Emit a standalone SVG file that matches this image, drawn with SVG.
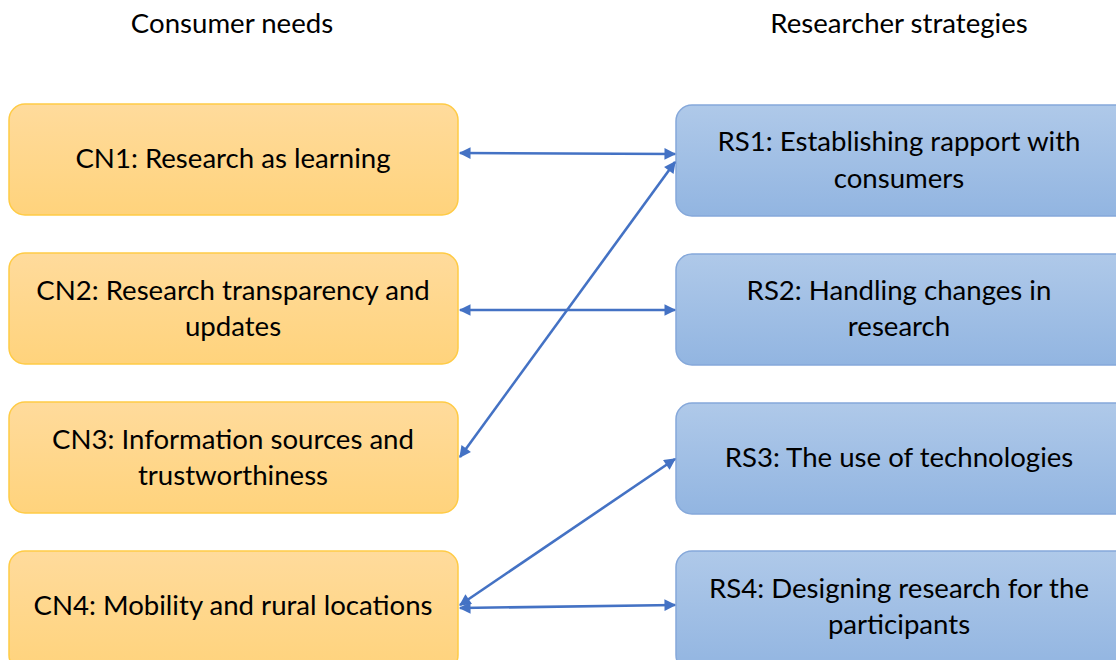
<svg xmlns="http://www.w3.org/2000/svg" width="1116" height="660" viewBox="0 0 1116 660">
<defs>
<linearGradient id="gy" x1="0" y1="0" x2="0" y2="1"><stop offset="0" stop-color="#FFDB9C"/><stop offset="1" stop-color="#FFD37C"/></linearGradient>
<linearGradient id="gb" x1="0" y1="0" x2="0" y2="1"><stop offset="0" stop-color="#AFC9E9"/><stop offset="1" stop-color="#92B5E1"/></linearGradient>
<marker id="ah" viewBox="0 0 10 10" refX="9" refY="5" markerWidth="5" markerHeight="4.5" orient="auto-start-reverse" markerUnits="strokeWidth"><path d="M0,0 L10,5 L0,10 z" fill="#4472C4"/></marker>
<style>
.cn{fill:url(#gy);stroke:#FFCB45;stroke-width:1.5}
.rs{fill:url(#gb);stroke:#85A8DA;stroke-width:1.5}
text{font-family:Lato,"Open Sans",sans-serif;font-size:27.6px;fill:#000;text-anchor:middle}
.c{stroke:#4472C4;stroke-width:2.6;fill:none;marker-start:url(#ah);marker-end:url(#ah)}
</style>
</defs>
<text x="232" y="33">Consumer needs</text>
<text x="899" y="33">Researcher strategies</text>
<g id="CN1"><rect class="cn" x="9" y="104" width="449" height="111" rx="16"/><text x="233" y="168">CN1: Research as learning</text></g>
<g id="CN2"><rect class="cn" x="9" y="253" width="449" height="111" rx="16"/><text x="233" y="300">CN2: Research transparency and</text><text x="233" y="336">updates</text></g>
<g id="CN3"><rect class="cn" x="9" y="402" width="449" height="111" rx="16"/><text x="233" y="449">CN3: Information sources and</text><text x="233" y="485">trustworthiness</text></g>
<g id="CN4"><rect class="cn" x="9" y="551" width="449" height="120" rx="16"/><text x="233" y="615">CN4: Mobility and rural locations</text></g>
<g id="RS1"><rect class="rs" x="676" y="105" width="460" height="111" rx="16"/><text x="899" y="151">RS1: Establishing rapport with</text><text x="899" y="188">consumers</text></g>
<g id="RS2"><rect class="rs" x="676" y="254" width="460" height="111" rx="16"/><text x="899" y="300">RS2: Handling changes in</text><text x="899" y="336">research</text></g>
<g id="RS3"><rect class="rs" x="676" y="403" width="460" height="111" rx="16"/><text x="899" y="467">RS3: The use of technologies</text></g>
<g id="RS4"><rect class="rs" x="676" y="551" width="460" height="120" rx="16"/><text x="899" y="598">RS4: Designing research for the</text><text x="899" y="634">participants</text></g>
<g id="connectors">
<line class="c" x1="460" y1="153" x2="675" y2="154"/>
<line class="c" x1="460" y1="457" x2="675" y2="162"/>
<line class="c" x1="460" y1="310" x2="675" y2="310"/>
<line class="c" x1="460" y1="605" x2="675" y2="459"/>
<line class="c" x1="460" y1="608" x2="675" y2="605"/>
</g>
</svg>
